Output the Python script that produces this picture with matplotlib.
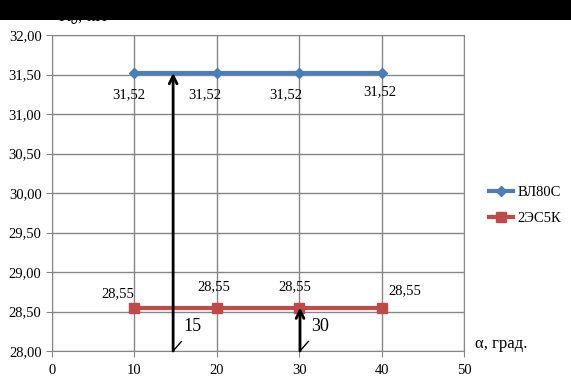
import matplotlib
matplotlib.use("Agg")
import matplotlib.pyplot as plt
from matplotlib.patches import Rectangle

# ---------------------------------------------------------------------------
# Data
# ---------------------------------------------------------------------------
alpha = [10, 20, 30, 40]
k_vl80s = [31.52, 31.52, 31.52, 31.52]
k_2es5k = [28.55, 28.55, 28.55, 28.55]
series_names = ['ВЛ80С', '2ЭС5К']
marks = [(14.7, 31.52, '15'), (30.1, 28.55, '30')]

# label offsets in pixels (dx, dy) for the data labels
blue_offsets = [(-6, -22), (-12, -22), (-13, -22), (-2, -19)]
red_offsets = [(-17, 14), (-3, 21), (-4, 21), (23, 17)]

plt.rcParams['font.family'] = ['Liberation Serif', 'DejaVu Serif']

fig = plt.figure(figsize=(5.71, 3.86), dpi=100)
ax = fig.add_axes([52 / 571, 35 / 386, 412 / 571, 316 / 386])

blue = '#4a7ebb'
red = '#be4b48'

ax.plot(alpha, k_vl80s, color=blue, lw=3, marker='D', ms=5, label=series_names[0], zorder=3)
ax.plot(alpha, k_2es5k, color=red, lw=3, marker='s', ms=7, label=series_names[1], zorder=3)

for x, y, (dx, dy) in zip(alpha, k_vl80s, blue_offsets):
    ax.annotate(f'{y:.2f}'.replace('.', ','), (x, y), xytext=(dx, dy),
                textcoords='offset pixels', ha='center', va='center', fontsize=10.5)
for x, y, (dx, dy) in zip(alpha, k_2es5k, red_offsets):
    ax.annotate(f'{y:.2f}'.replace('.', ','), (x, y), xytext=(dx, dy),
                textcoords='offset pixels', ha='center', va='center', fontsize=10.5)

# arrows from the x axis up to the curves
for x, ytop, txt in marks:
    ax.annotate('', xy=(x, ytop), xytext=(x, 28.0),
                arrowprops=dict(arrowstyle='->', color='black', lw=2,
                                mutation_scale=14, shrinkA=0, shrinkB=0),
                zorder=4)
    ax.plot([x, x + 1.0], [28.0, 28.12], color='black', lw=1, zorder=4)
    ax.text(x + 1.3, 28.31, txt, fontsize=13, ha='left', va='center')

ax.set_xlim(0, 50)
ax.set_ylim(28, 32)
ax.set_xticks(range(0, 51, 10))
ax.set_yticks([28 + 0.5 * i for i in range(9)])
ax.set_yticklabels([f'{28 + 0.5 * i:.2f}'.replace('.', ',') for i in range(9)])
ax.tick_params(labelsize=10.5, length=4, color='#868686')
ax.tick_params(axis='x', direction='out', pad=5)
ax.grid(True, color='#868686', lw=1)
ax.set_axisbelow(True)
for s in ax.spines.values():
    s.set_color('#868686')

fig.text(475 / 571, 1 - 344 / 386, 'α, град.', fontsize=12, ha='left', va='center')
fig.text(58 / 571, 1 - 17 / 386, r'K$_б$, кН', fontsize=12, ha='left', va='center')

ax.legend(loc='center left', bbox_to_anchor=(1.03, 0.46), frameon=False,
          fontsize=10.5, handlelength=1.6, handletextpad=0.3, labelspacing=0.9)

# black band across the top
fig.patches.append(Rectangle((0, 1 - 20 / 386), 1, 20 / 386, transform=fig.transFigure,
                             facecolor='black', edgecolor='none', zorder=10))

fig.savefig('out.png', dpi=100)
